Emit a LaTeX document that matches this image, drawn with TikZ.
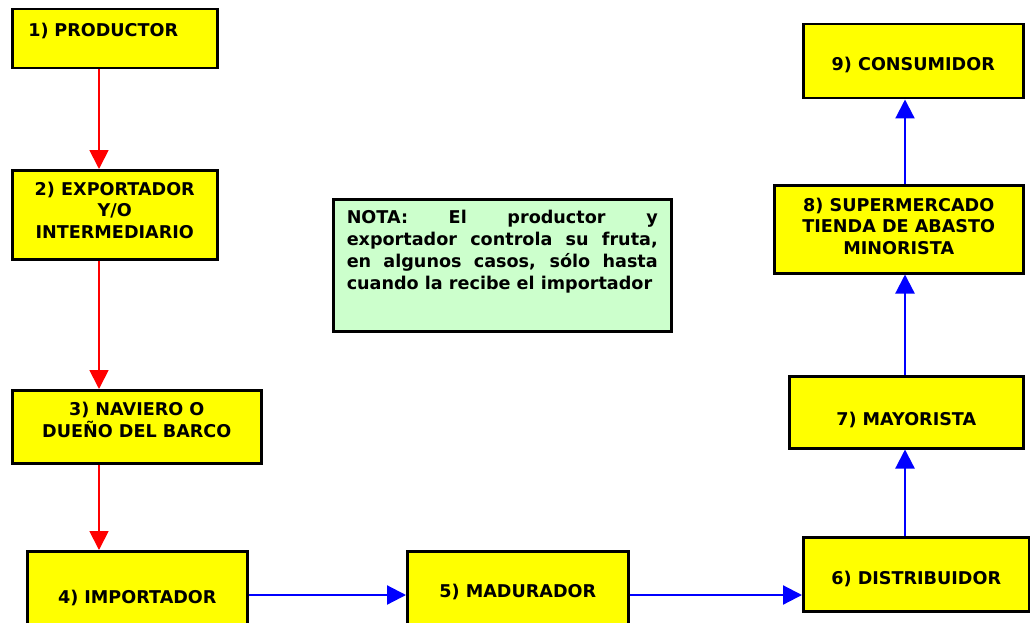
\documentclass[tikz,border=0pt]{standalone}
\usepackage{fontspec}
\setmainfont{DejaVu Sans}
\usetikzlibrary{arrows.meta}
\definecolor{boxyellow}{HTML}{FFFF00}
\definecolor{notegreen}{HTML}{CCFFCC}
\definecolor{flowred}{HTML}{FF0000}
\definecolor{flowblue}{HTML}{0000FF}

\begin{document}
\begin{tikzpicture}[x=1pt, y=-1pt,
  box/.style={draw=black, line width=2.5pt, fill=boxyellow, anchor=north west, align=center, inner sep=2pt, font=\bfseries\fontsize{17.6}{21.5}\selectfont},
  redarrow/.style={draw=flowred, line width=1.8pt, -{Triangle[width=19pt,length=19pt]}},
  bluearrow/.style={draw=flowblue, line width=2.2pt, -{Triangle[width=19pt,length=19pt]}}]
  %%%%% START %%%%%
  \clip (0,0) rectangle (1030,623);
  \fill[white] (0,0) rectangle (1030,623);

  % left column
  \node[box, minimum width=205, minimum height=59, text width=173, align=left, inner xsep=16, inner ysep=4, text height=23, text depth=28] (prod) at (11,8) {1) PRODUCTOR};
  \node[box, minimum width=205, minimum height=89, text height=63.5, text depth=16.5] (expo) at (11,169) {2) EXPORTADOR\\Y/O\\INTERMEDIARIO};
  \node[box, minimum width=249, minimum height=73, text height=40.5, text depth=19.5] (navi) at (11,389) {3) NAVIERO O\\DUEÑO DEL BARCO};

  % bottom row
  \node[box, minimum width=220, minimum height=94] (impo) at (26,550) {4) IMPORTADOR};
  \node[box, minimum width=221, minimum height=82] (madu) at (406,550) {5) MADURADOR};
  \node[box, minimum width=226, minimum height=74, text height=40, text depth=20] (dist) at (802,536) {6) DISTRIBUIDOR};

  % right column
  \node[box, minimum width=234, minimum height=72, text height=43, text depth=17] (mayo) at (788,375) {7) MAYORISTA};
  \node[box, minimum width=249, minimum height=88, text height=65, text depth=15] (supe) at (773,184) {8) SUPERMERCADO\\TIENDA DE ABASTO\\MINORISTA};
  \node[box, minimum width=220, minimum height=74, text height=39, text depth=21] (cons) at (802,23) {9) CONSUMIDOR};

  % note
  \node[box, fill=notegreen, minimum width=338, minimum height=132, text width=311, align=justify, inner xsep=13.5, inner ysep=4, text height=20, text depth=104, font=\bfseries\fontsize{17.6}{22}\selectfont] (nota) at (332,198)
    {NOTA: El productor y\linebreak exportador controla su fruta,\linebreak en algunos casos, sólo hasta\linebreak cuando la recibe el importador};

  \coordinate (redx) at (99,0);
  \coordinate (bluex) at (905,0);
  \coordinate (bluey) at (0,595);

  \draw[redarrow] (prod.south -| redx) -- (expo.north -| redx);
  \draw[redarrow] (expo.south -| redx) -- (navi.north -| redx);
  \draw[redarrow] (navi.south -| redx) -- (impo.north -| redx);

  \draw[bluearrow] (impo.east |- bluey) -- (madu.west |- bluey);
  \draw[bluearrow] (madu.east |- bluey) -- (dist.west |- bluey);
  \draw[bluearrow] (dist.north -| bluex) -- (mayo.south -| bluex);
  \draw[bluearrow] (mayo.north -| bluex) -- (supe.south -| bluex);
  \draw[bluearrow] (supe.north -| bluex) -- (cons.south -| bluex);
  %%%%% END %%%%%
\end{tikzpicture}
\end{document}
